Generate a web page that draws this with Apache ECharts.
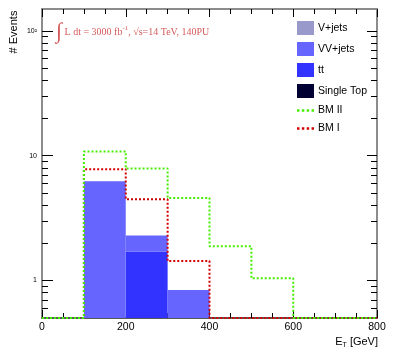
<!DOCTYPE html>
<html>
<head>
<meta charset="utf-8">
<script src="https://cdn.jsdelivr.net/npm/echarts@6/dist/echarts.min.js"></script>
<style>
  html, body { margin: 0; padding: 0; background: #fff; }
  #chart { width: 419px; height: 354px; }
</style>
</head>
<body>
<div id="chart"></div>
<script>
// bin edges in GeV (100 GeV bins)
const binEdges = [0, 100, 200, 300, 400, 500, 600, 700, 800];

// stacked backgrounds, events per bin (bottom of stack first)
const singleTop = [0, 0, 0, 0, 0, 0, 0, 0];
const ttbar     = [0, 0, 1.71, 0, 0, 0, 0, 0];
const vvJets    = [0, 6.24, 0.58, 0.84, 0, 0, 0, 0];
const vJets     = [0, 0, 0, 0, 0, 0, 0, 0];

// signal benchmarks
const bm2 = [0, 10.8, 7.89, 4.59, 1.88, 1.04, 0, 0];
const bm1 = [0, 7.8, 4.47, 1.43, 0, 0, 0, 0];

// axis ticks
const xTicks = [0, 200, 400, 600, 800];
const yMajor = [1, 10, 100];
const yMinor = [0.6, 0.7, 0.8, 0.9, 2, 3, 4, 5, 6, 7, 8, 9, 20, 30, 40, 50, 60, 70, 80, 90];
const yMin = 0.5, yMax = 150;

const chart = echarts.init(document.getElementById('chart'));

// stack backgrounds into rectangles [x0, x1, low, high]
const stackOrder = [
  {name: 'Single Top', vals: singleTop, color: '#000033'},
  {name: 'tt',         vals: ttbar,     color: '#3333ff'},
  {name: 'VV+jets',    vals: vvJets,    color: '#6666ff'},
  {name: 'V+jets',     vals: vJets,     color: '#9999cc'}
];
const cum = binEdges.slice(0, -1).map(() => 0);
const barSeries = stackOrder.map(s => {
  const data = [];
  s.vals.forEach((v, i) => {
    const lo = cum[i];
    cum[i] += v;
    if (v > 0) data.push([binEdges[i], binEdges[i + 1], Math.max(lo, yMin), Math.max(cum[i], yMin)]);
  });
  return {
    name: s.name,
    type: 'custom',
    itemStyle: {color: s.color},
    encode: {x: [0, 1], y: [2, 3]},
    data: data,
    z: 2,
    renderItem: function (params, api) {
      const p0 = api.coord([api.value(0), api.value(3)]);
      const p1 = api.coord([api.value(1), api.value(2)]);
      return {
        type: 'rect',
        shape: {x: p0[0], y: p0[1], width: p1[0] - p0[0], height: p1[1] - p0[1]},
        style: {fill: s.color}
      };
    }
  };
});

function stepData(vals) {
  const pts = vals.map((v, i) => [binEdges[i], Math.max(v, yMin)]);
  pts.push([binEdges[binEdges.length - 1], Math.max(vals[vals.length - 1], yMin)]);
  return pts;
}

function lineSeries(name, vals, color, z) {
  return {
    name: name,
    type: 'line',
    step: 'end',
    symbol: 'none',
    data: stepData(vals),
    itemStyle: {color: color},
    lineStyle: {color: color, width: 2, type: [2, 2]},
    z: z
  };
}

// dotted-line legend icon
const dotIcon = 'path://M0,0h2v2h-2zM4,0h2v2h-2zM8,0h2v2h-2zM12,0h2v2h-2z';

const axisGray = '#8c8c8c';
const xBase = {
  type: 'value', min: 0, max: 800, interval: 200,
  splitLine: {show: false}
};
const yBase = {
  type: 'log', logBase: 10, min: yMin, max: yMax,
  splitLine: {show: false}
};

chart.setOption({
  animation: false,
  grid: {left: 42, right: 42, top: 9, bottom: 36},
  xAxis: [
    Object.assign({}, xBase, {
      position: 'bottom',
      axisLine: {lineStyle: {color: '#222', width: 1.5}},
      axisTick: {inside: true, length: 8, lineStyle: {color: '#000'}},
      minorTick: {show: true, splitNumber: 4, length: 5, lineStyle: {color: '#000'}},
      axisLabel: {color: '#000', fontSize: 10.5, fontFamily: 'Liberation Sans', margin: 4,
        customValues: xTicks}
    }),
    Object.assign({}, xBase, {
      position: 'top',
      axisLine: {lineStyle: {color: axisGray, width: 2}},
      axisTick: {inside: true, length: 8, lineStyle: {color: '#000'}},
      minorTick: {show: true, splitNumber: 4, length: 5, lineStyle: {color: '#000'}},
      axisLabel: {show: false}
    })
  ],
  yAxis: [
    Object.assign({}, yBase, {
      position: 'left',
      axisLine: {show: true, lineStyle: {color: axisGray, width: 2}},
      axisTick: {inside: true, length: 11, customValues: yMajor, lineStyle: {color: '#000'}},
      axisLabel: {customValues: yMajor, color: '#000', fontSize: 7, fontFamily: 'Liberation Sans', margin: 5,
        formatter: v => (Math.abs(v - 100) < 1e-6 ? '10²' : String(Math.round(v)))}
    }),
    Object.assign({}, yBase, {
      position: 'left',
      axisLine: {show: false},
      axisTick: {inside: true, length: 6, customValues: yMinor, lineStyle: {color: '#000'}},
      axisLabel: {show: false}
    }),
    Object.assign({}, yBase, {
      position: 'right',
      axisLine: {show: true, lineStyle: {color: axisGray, width: 2}},
      axisTick: {inside: true, length: 10, customValues: yMajor, lineStyle: {color: '#000'}},
      axisLabel: {show: false}
    }),
    Object.assign({}, yBase, {
      position: 'right',
      axisLine: {show: false},
      axisTick: {inside: true, length: 6, customValues: yMinor, lineStyle: {color: '#000'}},
      axisLabel: {show: false}
    })
  ],
  legend: {
    orient: 'vertical',
    left: 297,
    top: 21,
    padding: 0,
    itemWidth: 17,
    itemHeight: 14,
    itemGap: 7,
    symbolKeepAspect: true,
    textStyle: {fontSize: 10.5, fontFamily: 'Liberation Sans', color: '#000', padding: [0, 0, 0, -1]},
    data: [
      {name: 'V+jets', icon: 'rect'},
      {name: 'VV+jets', icon: 'rect'},
      {name: 'tt', icon: 'rect'},
      {name: 'Single Top', icon: 'rect'},
      {name: 'BM II', icon: dotIcon},
      {name: 'BM I', icon: dotIcon}
    ]
  },
  graphic: [
    {
      type: 'text', x: 14, y: 32, rotation: Math.PI / 2,
      style: {text: '# Events', fontSize: 11, fontFamily: 'Liberation Sans', fill: '#000',
        align: 'center', verticalAlign: 'middle', textAlign: 'center', textVerticalAlign: 'middle'}
    },
    {
      type: 'text', x: 378, y: 342,
      style: {
        text: '{e|E}{t|T}{g| [GeV]}',
        align: 'right', verticalAlign: 'middle', textAlign: 'right', textVerticalAlign: 'middle',
        rich: {
          e: {fontSize: 11, fontFamily: 'Liberation Sans', fill: '#000'},
          t: {fontSize: 7, fontFamily: 'Liberation Sans', fill: '#000', padding: [6, 0, 0, 0]},
          g: {fontSize: 11, fontFamily: 'Liberation Sans', fill: '#000'}
        }
      }
    },
    {
      type: 'text', x: 56, y: 32,
      style: {
        text: '{i|∫}{t| L dt = 3000 fb}{s|-1}{t|, √s=14 TeV, 140PU}',
        align: 'left', verticalAlign: 'middle', textAlign: 'left', textVerticalAlign: 'middle',
        rich: {
          i: {fontSize: 22, fontFamily: 'Liberation Serif', fill: '#d65a5a'},
          t: {fontSize: 10, fontFamily: 'Liberation Serif', fill: '#d65a5a'},
          s: {fontSize: 7, fontFamily: 'Liberation Serif', fill: '#d65a5a', padding: [0, 0, 8, 0]}
        }
      }
    }
  ],
  series: barSeries.concat([
    lineSeries('BM I', bm1, '#d40000', 4),
    lineSeries('BM II', bm2, '#44ee00', 5)
  ])
});
</script>
</body>
</html>
